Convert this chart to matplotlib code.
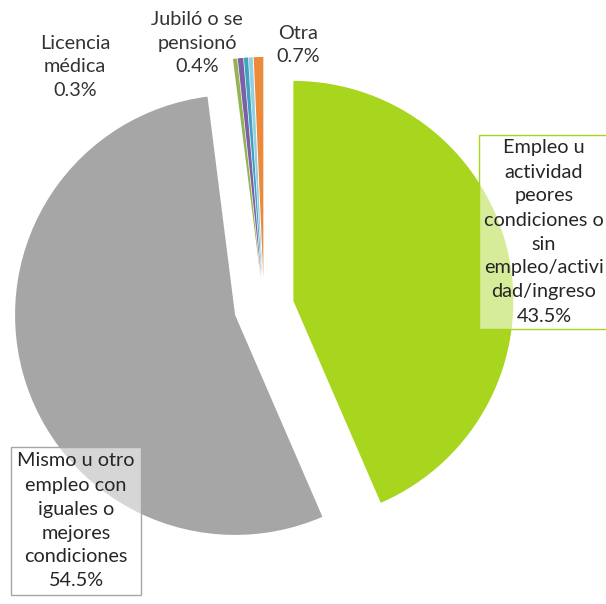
import numpy as np
import matplotlib
matplotlib.use("Agg")
import matplotlib.pyplot as plt

plt.rcParams['font.family'] = ['Lato', 'DejaVu Sans']

categorias = ['Empleo u\nactividad\npeores\ncondiciones o\nsin\nempleo/activi\ndad/ingreso',
              'Mismo u otro\nempleo con\niguales o\nmejores\ncondiciones',
              'Licencia\nmédica',
              'Jubiló o se\npensionó',
              '',
              '',
              'Otra']
valores = [43.5, 54.5, 0.3, 0.4, 0.3, 0.3, 0.7]
colores = ['#A8D61E', '#A6A6A6', '#92B451', '#7D5FA6', '#3FA2BE', '#93CFE0', '#EC8A3C']

fig = plt.figure(figsize=(6.06, 6.04), dpi=100)
ax = fig.add_axes([0, 0, 1, 1])

wedges, _ = ax.pie(valores, colors=colores, startangle=90, counterclock=False,
                   center=(264, 297), radius=220, explode=[30] * len(valores),
                   wedgeprops=dict(linewidth=0))

ax.set_xlim(0, 606)
ax.set_ylim(0, 604)
ax.set_aspect('equal')
ax.axis('off')

def etiqueta(i):
    return categorias[i] + '\n' + '%.1f%%' % valores[i]

fs = 14.3
ls = 1.5
# small slice labels (no box)
ax.text(75, 604 - 67, etiqueta(2), ha='center', va='center', fontsize=fs,
        color='#333333', linespacing=1.45)
ax.text(197, 604 - 43, etiqueta(3), ha='center', va='center', fontsize=fs,
        color='#333333', linespacing=1.45)
ax.text(298, 604 - 45, etiqueta(6), ha='center', va='center', fontsize=fs,
        color='#333333', linespacing=1.45)

# boxed labels
ax.text(544, 604 - 232, etiqueta(0), ha='center', va='center', fontsize=fs,
        color='#262626', linespacing=ls,
        bbox=dict(boxstyle='square,pad=0.25', facecolor=(1, 1, 1, 0.55),
                  edgecolor=colores[0], linewidth=1))
ax.text(76, 604 - 521, etiqueta(1), ha='center', va='center', fontsize=fs,
        color='#262626', linespacing=ls,
        bbox=dict(boxstyle='square,pad=0.3', facecolor=(1, 1, 1, 0.55),
                  edgecolor='#A6A6A6', linewidth=1))

fig.savefig('out.png', dpi=100)
